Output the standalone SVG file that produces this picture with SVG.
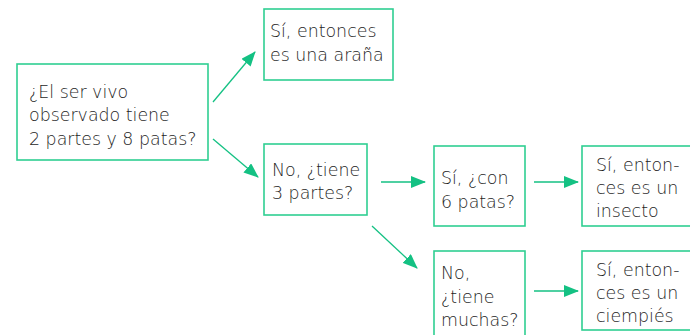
<svg xmlns="http://www.w3.org/2000/svg" width="690" height="335" viewBox="0 0 690 335">
<defs>
<style>
.box{fill:#fff;stroke:#2fcf92;stroke-width:1.6}
.t{font-family:"DejaVu Sans","Open Sans",sans-serif;font-weight:200;font-size:17.4px;fill:#1e1e1e}
.c{stroke:#14c183;stroke-width:1.3;fill:none}
</style>
<marker id="ah" viewBox="0 0 15 12" refX="14" refY="6" markerWidth="15" markerHeight="12" markerUnits="userSpaceOnUse" orient="auto">
<path d="M0,0 L15,6 L0,12 Z" fill="#14c183"/>
</marker>
</defs>
<rect width="690" height="335" fill="#fff"/>
<g id="connectors">
<line class="c" x1="213" y1="102" x2="255" y2="52" marker-end="url(#ah)"/>
<line class="c" x1="213" y1="139" x2="258" y2="177" marker-end="url(#ah)"/>
<line class="c" x1="381" y1="182" x2="425" y2="182" marker-end="url(#ah)"/>
<line class="c" x1="372" y1="226" x2="417" y2="268" marker-end="url(#ah)"/>
<line class="c" x1="534" y1="182" x2="578" y2="182" marker-end="url(#ah)"/>
<line class="c" x1="534" y1="291" x2="578" y2="291" marker-end="url(#ah)"/>
</g>
<g id="n1">
<rect class="box" x="17" y="64" width="191" height="96"/>
<text class="t" x="29" y="98">¿El ser vivo</text>
<text class="t" x="29" y="121">observado tiene</text>
<text class="t" x="29" y="145">2 partes y 8 patas?</text>
</g>
<g id="n2">
<rect class="box" x="264" y="9" width="129" height="71"/>
<text class="t" x="270" y="37">Sí, entonces</text>
<text class="t" x="270" y="61">es una araña</text>
</g>
<g id="n3">
<rect class="box" x="264" y="144" width="103" height="71"/>
<text class="t" x="272" y="176">No, ¿tiene</text>
<text class="t" x="272" y="199">3 partes?</text>
</g>
<g id="n4">
<rect class="box" x="434" y="146" width="91" height="80"/>
<text class="t" x="441" y="184">Sí, ¿con</text>
<text class="t" x="441" y="208">6 patas?</text>
</g>
<g id="n5">
<rect class="box" x="582" y="146" width="115" height="80"/>
<text class="t" x="596" y="171">Sí, enton-</text>
<text class="t" x="596" y="194">ces es un</text>
<text class="t" x="596" y="217">insecto</text>
</g>
<g id="n6">
<rect class="box" x="434" y="251" width="91" height="95"/>
<text class="t" x="441" y="279">No,</text>
<text class="t" x="441" y="303">¿tiene</text>
<text class="t" x="441" y="326">muchas?</text>
</g>
<g id="n7">
<rect class="box" x="582" y="251" width="115" height="79"/>
<text class="t" x="596" y="276">Sí, enton-</text>
<text class="t" x="596" y="299">ces es un</text>
<text class="t" x="596" y="322">ciempiés</text>
</g>
</svg>
